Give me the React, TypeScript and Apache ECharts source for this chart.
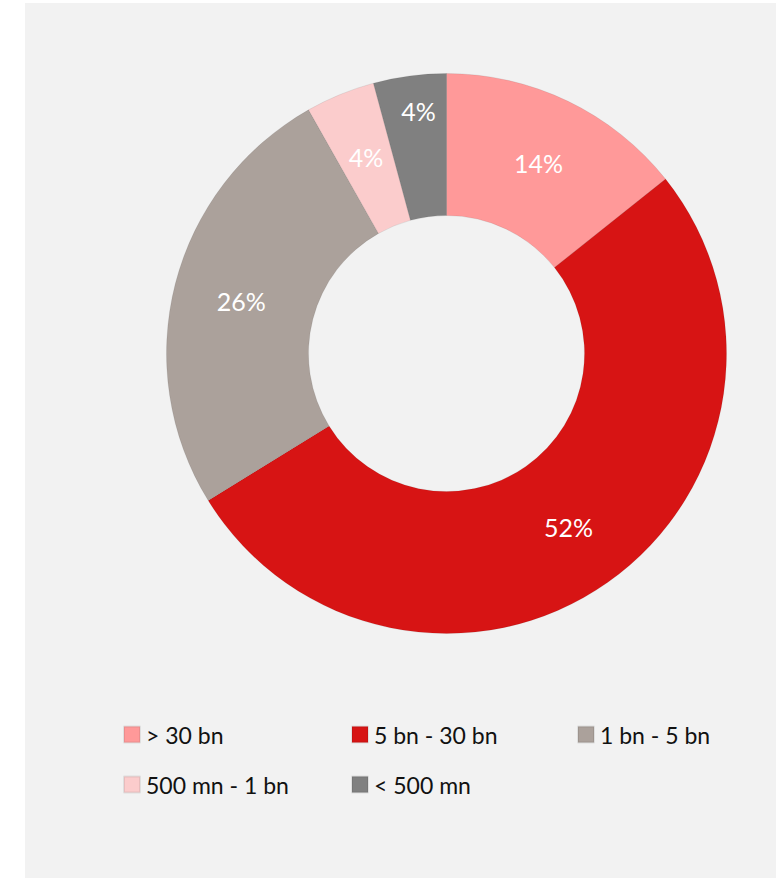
import React, { useEffect, useRef } from "react";
import * as echarts from "echarts";

const categories = ["> 30 bn", "5 bn - 30 bn", "1 bn - 5 bn", "500 mn - 1 bn", "< 500 mn"];
const values = [14.3, 51.9, 25.6, 4.0, 4.2];
const colors = ["#ff9999", "#d71414", "#aba19b", "#fbcccc", "#808080"];
const legendPos = [
  { left: 98, top: 720 },
  { left: 326, top: 720 },
  { left: 552, top: 720 },
  { left: 98, top: 770 },
  { left: 326, top: 770 },
];

export default function App() {
  const ref = useRef<HTMLDivElement>(null);
  useEffect(() => {
    const chart = echarts.init(ref.current!, undefined, { renderer: "svg" });
    const font = "Lato, 'Open Sans', sans-serif";
    chart.setOption({
      animation: false,
      backgroundColor: "#f2f2f2",
      legend: categories.map((c, i) => ({
        data: [c],
        left: legendPos[i].left,
        top: legendPos[i].top,
        itemWidth: 16,
        itemHeight: 16,
        itemGap: 0,
        icon: "rect",
        padding: 0,
        textStyle: { fontFamily: font, fontSize: 23, color: "#111", padding: [0, 0, 0, 1] },
        selectedMode: false,
      })),
      series: [
        {
          type: "pie",
          center: [421.5, 350.5],
          radius: [138, 280],
          startAngle: 90,
          clockwise: true,
          percentPrecision: 0,
          avoidLabelOverlap: false,
          itemStyle: { borderColor: "rgba(0,0,0,0.08)", borderWidth: 1 },
          label: {
            show: true,
            position: "inside",
            formatter: "{d}%",
            color: "#ffffff",
            fontFamily: font,
            fontSize: 25,
          },
          labelLine: { show: false },
          emphasis: { disabled: true },
          data: categories.map((c, i) => ({
            name: c,
            value: values[i],
            itemStyle: { color: colors[i] },
            label: i === 4 ? { formatter: "{d}%\n \n ", lineHeight: 32 } : undefined,
          })),
        },
      ],
    });
    return () => chart.dispose();
  }, []);
  return (
    <div style={{ position: "absolute", left: 0, top: 0, width: 784, height: 878, background: "#fff" }}>
      <div ref={ref} style={{ position: "absolute", left: 25, top: 3, width: 751, height: 875 }} />
    </div>
  );
}
